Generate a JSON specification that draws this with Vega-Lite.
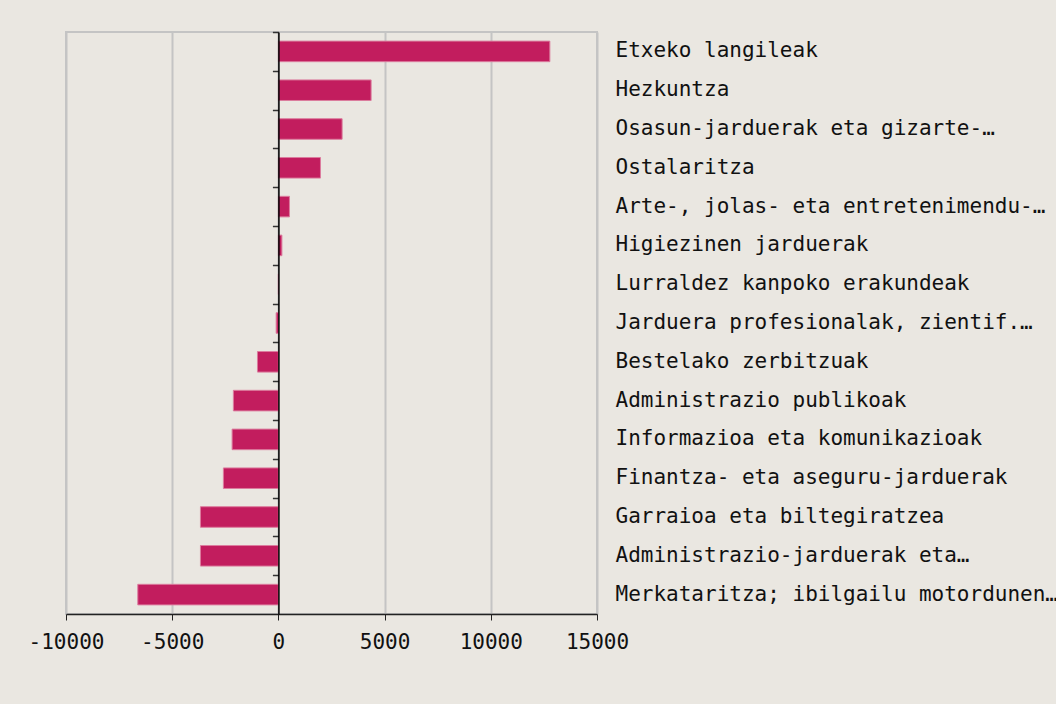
{
  "$schema": "https://vega.github.io/schema/vega-lite/v6.json",
  "autosize": {"type": "none"},
  "padding": {"left": 66, "top": 32, "right": 459, "bottom": 90},
  "width": 531,
  "height": 582,
  "background": "#EAE7E1",
  "config": {
    "view": {"fill": "#EAE7E1", "stroke": "#C4C4C4", "strokeWidth": 2},
    "font": "DejaVu Sans Mono"
  },
  "data": {
    "values": [
      {"sector": "Etxeko langileak", "value": 12780},
      {"sector": "Hezkuntza", "value": 4365},
      {"sector": "Osasun-jarduerak eta gizarte-…", "value": 3000},
      {"sector": "Ostalaritza", "value": 1980},
      {"sector": "Arte-, jolas- eta entretenimendu-…", "value": 520},
      {"sector": "Higiezinen jarduerak", "value": 165},
      {"sector": "Lurraldez kanpoko erakundeak", "value": 0},
      {"sector": "Jarduera profesionalak, zientif.…", "value": -105},
      {"sector": "Bestelako zerbitzuak", "value": -985},
      {"sector": "Administrazio publikoak", "value": -2120},
      {"sector": "Informazioa eta komunikazioak", "value": -2180},
      {"sector": "Finantza- eta aseguru-jarduerak", "value": -2590},
      {"sector": "Garraioa eta biltegiratzea", "value": -3670},
      {"sector": "Administrazio-jarduerak eta…", "value": -3670},
      {"sector": "Merkataritza; ibilgailu motordunen…", "value": -6620}
    ]
  },
  "encoding": {
    "x": {
      "field": "value",
      "type": "quantitative",
      "scale": {"domain": [-10000, 15000], "nice": false, "zero": false},
      "axis": {
        "title": null,
        "values": [-10000, -5000, 0, 5000, 10000, 15000],
        "labelExpr": "datum.value < 0 ? '-' + abs(datum.value) : '' + datum.value",
        "grid": true,
        "gridColor": "#C4C4C4",
        "gridWidth": 2,
        "domainColor": "#222222",
        "domainWidth": 1.5,
        "tickColor": "#222222",
        "tickSize": 6,
        "labelFont": "DejaVu Sans Mono",
        "labelFontSize": 21,
        "labelColor": "#111111",
        "labelPadding": 11,
        "labelFlush": false
      }
    },
    "y": {
      "field": "sector",
      "type": "nominal",
      "sort": null,
      "scale": {"paddingInner": 0.47, "paddingOuter": 0.235}
    }
  },
  "layer": [
    {
      "mark": {"type": "bar", "color": "#C21D5E", "stroke": "#DC7C9E", "strokeWidth": 1},
      "encoding": {
        "y": {
          "field": "sector",
          "type": "nominal",
          "sort": null,
          "axis": {
            "orient": "left",
            "offset": -212.4,
            "zindex": 1,
            "title": null,
            "labels": false,
            "grid": false,
            "tickOffset": -19.4,
            "tickSize": 6,
            "tickColor": "#333333",
            "tickWidth": 1.5,
            "domainColor": "#000000",
            "domainWidth": 1.5
          }
        }
      }
    },
    {
      "mark": {"type": "bar", "opacity": 0},
      "encoding": {
        "y": {
          "field": "sector",
          "type": "nominal",
          "sort": null,
          "axis": {
            "orient": "right",
            "title": null,
            "domain": false,
            "ticks": false,
            "grid": false,
            "labelPadding": 18,
            "labelFont": "DejaVu Sans Mono",
            "labelFontSize": 21,
            "labelColor": "#111111",
            "labelLimit": 1000
          }
        }
      }
    }
  ],
  "resolve": {"axis": {"y": "independent"}}
}
